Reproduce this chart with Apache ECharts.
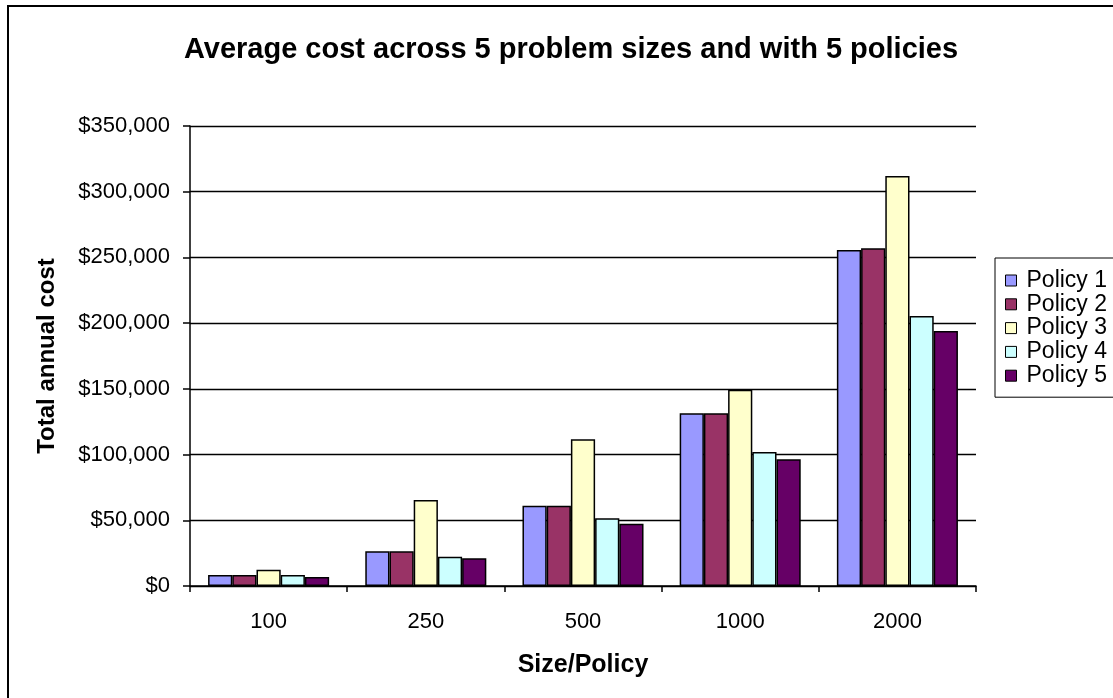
<!DOCTYPE html>
<html>
<head>
<meta charset="utf-8">
<script src="https://cdn.jsdelivr.net/npm/echarts@6/dist/echarts.min.js"></script>
<style>
  html, body { margin: 0; padding: 0; background: #fff; }
  #chart { width: 1113px; height: 698px; }
</style>
</head>
<body>
<div id="chart"></div>
<script>
// Problem sizes on the category axis
const sizes = ['100', '250', '500', '1000', '2000'];

// Average total annual cost per policy, one value per problem size
const policy1 = [8400, 26400, 61100, 131400, 255700];
const policy2 = [8400, 26400, 61100, 131400, 257000];
const policy3 = [12400, 65400, 111600, 149300, 312000];
const policy4 = [8400, 22300, 51500, 102000, 205500];
const policy5 = [6800, 21100, 47400, 96400, 194000];

const policyNames = ['Policy 1', 'Policy 2', 'Policy 3', 'Policy 4', 'Policy 5'];
const policyColors = ['#9999FF', '#993366', '#FFFFCC', '#CCFFFF', '#660066'];
const policyValues = [policy1, policy2, policy3, policy4, policy5];

const FONT = 'Liberation Sans, Arial, sans-serif';

function money(v) {
  return '$' + v.toLocaleString('en-US');
}

const chart = echarts.init(document.getElementById('chart'), null, { renderer: 'canvas' });

chart.setOption({
  animation: false,
  backgroundColor: '#ffffff',
  graphic: [{
    type: 'rect',
    z: -10,
    shape: { x: 8, y: 6, width: 1200, height: 800 },
    style: { fill: 'none', stroke: '#000', lineWidth: 2 }
  }],
  title: {
    text: 'Average cost across 5 problem sizes and with 5 policies',
    left: 566,
    top: 30,
    textAlign: 'center',
    textStyle: { fontFamily: FONT, fontSize: 29, fontWeight: 'bold', color: '#000' }
  },
  legend: {
    orient: 'vertical',
    left: 995,
    top: 258,
    padding: [11, 14, 10, 10],
    itemGap: 0.8,
    itemWidth: 11,
    itemHeight: 11,
    icon: 'rect',
    borderColor: '#000',
    borderWidth: 1,
    backgroundColor: '#fff',
    textStyle: { fontFamily: FONT, fontSize: 23, color: '#000', lineHeight: 23, padding: [0, 0, 0, 5] },
    itemStyle: { borderColor: '#000', borderWidth: 1 },
    data: policyNames
  },
  grid: { left: 190, top: 126, width: 786, height: 460, containLabel: false },
  xAxis: {
    type: 'category',
    data: sizes,
    name: 'Size/Policy',
    nameLocation: 'middle',
    nameGap: 67,
    nameTextStyle: { fontFamily: FONT, fontSize: 25, fontWeight: 'bold', color: '#000' },
    axisLine: { lineStyle: { color: '#000', width: 1.5 } },
    axisTick: { show: true, length: 6, alignWithLabel: false, lineStyle: { color: '#000', width: 1.5 } },
    axisLabel: { fontFamily: FONT, fontSize: 22, color: '#000', margin: 25 },
    splitLine: { show: false }
  },
  yAxis: {
    type: 'value',
    min: 0,
    max: 350000,
    interval: 50000,
    name: 'Total annual cost',
    nameLocation: 'middle',
    nameGap: 131,
    nameRotate: 90,
    nameTextStyle: { fontFamily: FONT, fontSize: 24, fontWeight: 'bold', color: '#000' },
    axisLine: { show: true, lineStyle: { color: '#000', width: 1.5 } },
    axisTick: { show: true, length: 7, lineStyle: { color: '#000', width: 1.5 } },
    axisLabel: { fontFamily: FONT, fontSize: 22, color: '#000', margin: 20, formatter: money },
    splitLine: { show: true, lineStyle: { color: '#000', width: 1.4 } }
  },
  series: policyNames.map((name, i) => ({
    name: name,
    type: 'bar',
    data: policyValues[i],
    barGap: '0%',
    barCategoryGap: '23%',
    itemStyle: { color: policyColors[i], borderColor: '#000', borderWidth: 1.5 }
  }))
});
</script>
</body>
</html>
